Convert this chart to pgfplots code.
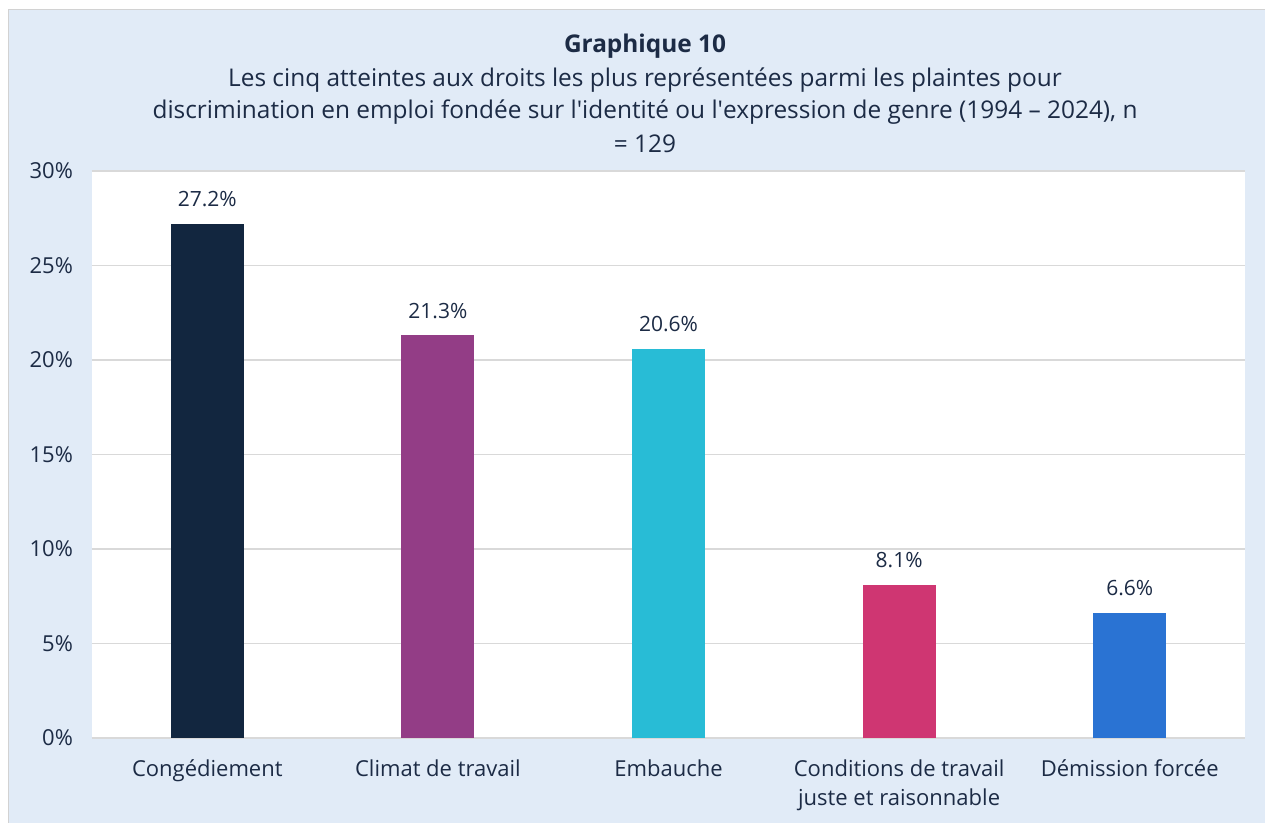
\documentclass[border=0pt]{standalone}
\usepackage{pgfplots}
\pgfplotsset{compat=1.18}
\usepackage{fontspec}
\setmainfont{Open Sans}
\definecolor{bgblue}{HTML}{E1EBF7}
\definecolor{navy}{HTML}{1C2B45}
\definecolor{gridgray}{HTML}{D9D9D9}
\definecolor{cA}{HTML}{12263F}
\definecolor{cB}{HTML}{933D86}
\definecolor{cC}{HTML}{28BCD6}
\definecolor{cD}{HTML}{CF3672}
\definecolor{cE}{HTML}{2A73D3}

\begin{document}
\begin{tikzpicture}
\useasboundingbox (0pt,0pt) rectangle (632.5pt,411.5pt);
\fill[bgblue,draw=gray!35] (4pt,-3pt) rectangle (636pt,407pt);

% title, three lines plus the n
\begin{scope}[every node/.style={text=navy,font=\fontsize{12.2}{14}\selectfont}]
\node[font=\fontsize{12.2}{14}\selectfont\bfseries] at (322.5pt,388.5pt) {Graphique 10};
\node at (322.5pt,371.5pt) {Les cinq atteintes aux droits les plus représentées parmi les plaintes pour};
\node at (322.5pt,355.5pt) {discrimination en emploi fondée sur l\textquotesingle identité ou l\textquotesingle expression de genre (1994 – 2024), n};
\node at (322.5pt,339.5pt) {= 129};
\end{scope}

\begin{axis}[at={(46pt,42.5pt)},anchor=south west,
scale only axis,width=576.5pt,height=283.5pt,
axis background/.style={fill=white},
ybar,bar width=36.5pt,bar shift=0pt,
xmin=-0.5,xmax=4.5,ymin=0,ymax=30,
xtick={0,1,2,3,4},
xticklabels={Congédiement,Climat de travail,Embauche,{Conditions de travail\\juste et raisonnable},Démission forcée},
ytick={0,5,10,15,20,25,30},
yticklabel={\pgfmathprintnumber{\tick}\%},
/pgf/number format/assume math mode=true,
ymajorgrids=true,grid style={gridgray,line width=0.6pt},
axis x line*=bottom,axis y line*=left,
x axis line style={gridgray,line width=0.8pt,-},
y axis line style={draw=none},
major tick length=0pt,
tick label style={font=\fontsize{11}{14.5}\selectfont,text=navy},
xticklabel style={align=center,yshift=-7.5pt},
yticklabel style={xshift=-6pt},
nodes near coords={\pgfmathprintnumber[fixed,fixed zerofill,precision=1]{\pgfplotspointmeta}\%},
every node near coord/.append style={font=\fontsize{10.5}{12}\selectfont,text=navy,yshift=5pt},
]
\addplot[fill=cA,draw=none] coordinates {(0,27.2)};
\addplot[fill=cB,draw=none] coordinates {(1,21.3)};
\addplot[fill=cC,draw=none] coordinates {(2,20.6)};
\addplot[fill=cD,draw=none] coordinates {(3,8.1)};
\addplot[fill=cE,draw=none] coordinates {(4,6.6)};
\end{axis}
\end{tikzpicture}
\end{document}
